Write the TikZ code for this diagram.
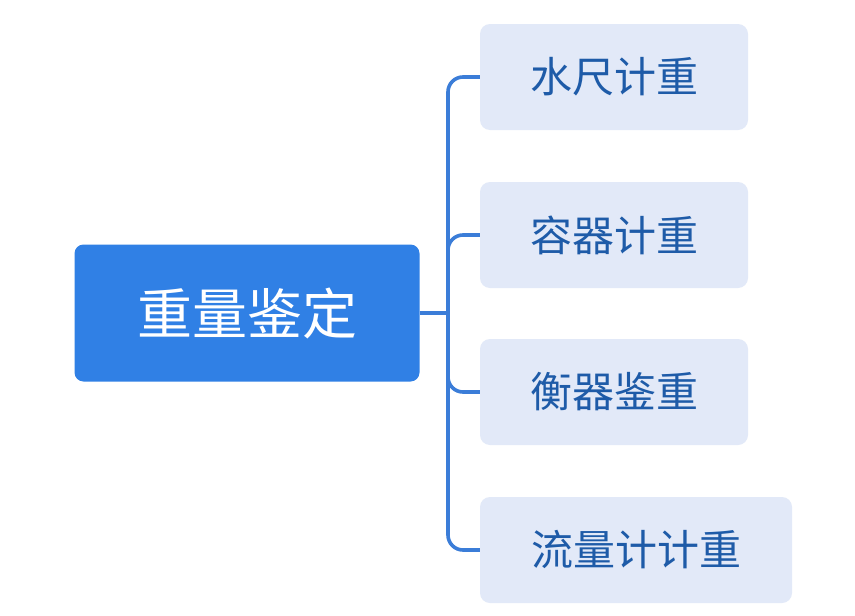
\documentclass[tikz,border=0pt]{standalone}
\usepackage{fontspec}
\setmainfont{Noto Sans CJK SC}
\definecolor{rootfill}{HTML}{3080E5}
\definecolor{childfill}{HTML}{E2E9F8}
\definecolor{childtext}{HTML}{1E5BA8}
\definecolor{linkcol}{HTML}{3B7DD8}
\begin{document}
\begin{tikzpicture}[x=1pt,y=-1pt,
  rootbox/.style={rectangle, rounded corners=9pt, fill=rootfill, text=white,
    minimum width=345pt, minimum height=137pt, inner sep=0pt,
    font=\fontsize{55pt}{60pt}\selectfont},
  childbox/.style={rectangle, rounded corners=10pt, fill=childfill, text=childtext,
    minimum width=268pt, minimum height=106pt, inner sep=0pt,
    font=\fontsize{42pt}{46pt}\selectfont},
  link/.style={draw=linkcol, line width=3.6pt, rounded corners=15pt}]
\useasboundingbox[fill=white] (0,0) rectangle (855,616);
\node[rootbox] (root) at (247,313) {重量鉴定};
\node[childbox] (c1) at (614,77) {水尺计重};
\node[childbox] (c2) at (614,235) {容器计重};
\node[childbox] (c3) at (614,392) {衡器鉴重};
\node[childbox, minimum width=312pt] (c4) at (636,550) {流量计计重};
\coordinate (bus) at (448,313);
\draw[link] (root.east) -- (bus);
\draw[link] (c1.west) -| (bus) |- (c4.west);
\draw[link] (c2.west) -| (bus);
\draw[link] (c3.west) -| (bus);
\end{tikzpicture}
\end{document}
